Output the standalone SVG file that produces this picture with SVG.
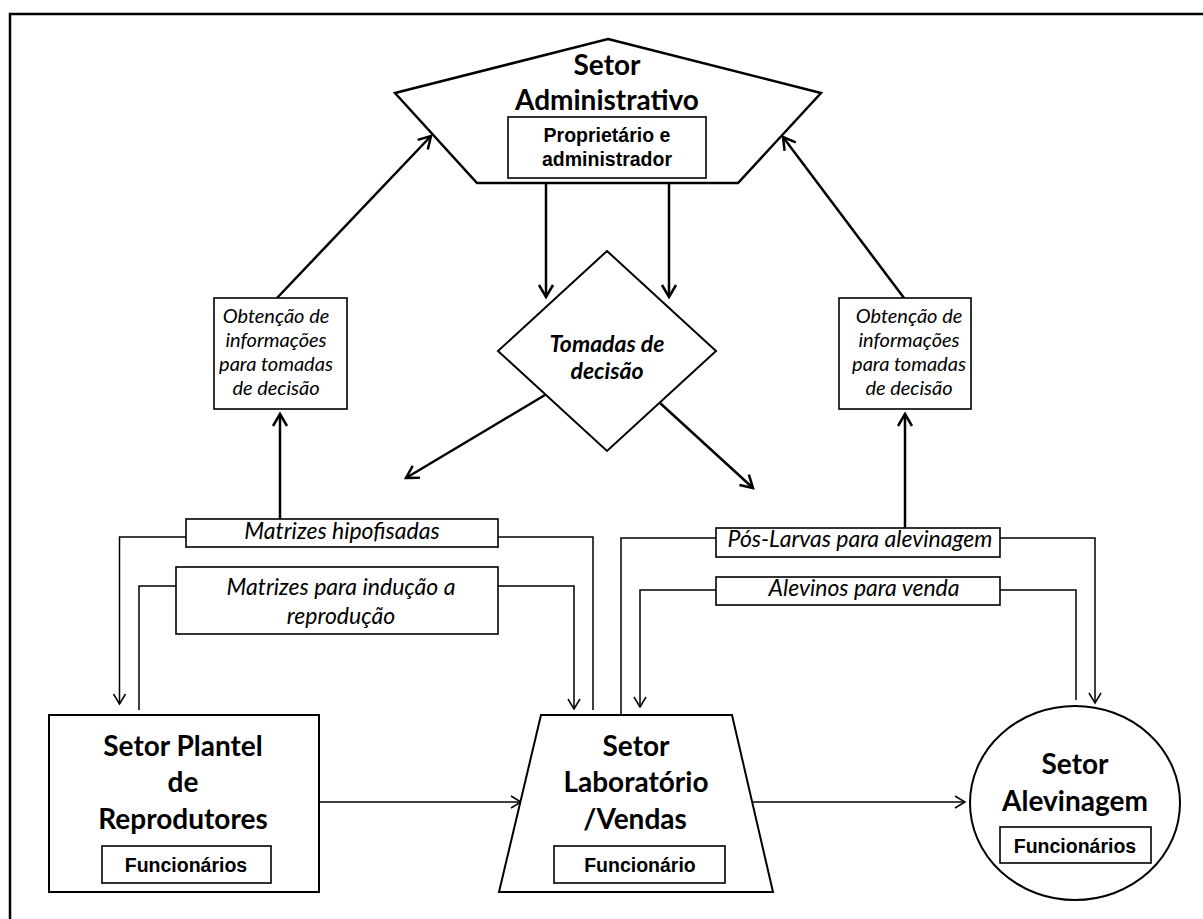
<svg xmlns="http://www.w3.org/2000/svg" width="1203" height="919" viewBox="0 0 1203 919">
<defs>
<style>
.shape{fill:#fff;stroke:#000;stroke-width:2}
.box{fill:#fff;stroke:#000;stroke-width:1.6}
.thick{fill:none;stroke:#000;stroke-width:2.5}
.thin{fill:none;stroke:#000;stroke-width:1.5}
.big{font-family:Lato,"Liberation Sans",sans-serif;font-weight:bold;font-size:28px;text-anchor:middle;fill:#000}
.lbl{font-family:"Liberation Sans",Arial,sans-serif;font-weight:bold;font-size:19.5px;text-anchor:middle;fill:#000}
.it{font-family:Lato,"Liberation Sans",sans-serif;font-style:italic;font-size:20px;text-anchor:middle;fill:#000}
.it2{font-family:Lato,"Liberation Sans",sans-serif;font-style:italic;font-size:23px;text-anchor:middle;fill:#000}
.bi{font-family:Lato,"Liberation Sans",sans-serif;font-style:italic;font-weight:bold;font-size:23px;text-anchor:middle;fill:#000}
</style>
<marker id="ah" viewBox="0 0 12 14" refX="12" refY="7" markerWidth="12" markerHeight="14" markerUnits="userSpaceOnUse" orient="auto" overflow="visible">
<path d="M0,0 L12,7 L0,14" fill="none" stroke="#000" stroke-width="2.5"/>
</marker>
<marker id="as" viewBox="0 0 10 12" refX="10" refY="6" markerWidth="10" markerHeight="12" markerUnits="userSpaceOnUse" orient="auto" overflow="visible">
<path d="M0,0 L10,6 L0,12" fill="none" stroke="#000" stroke-width="1.5"/>
</marker>
</defs>
<rect width="1203" height="919" fill="#fff"/>
<path d="M10,919 L10,14 L1203,14" fill="none" stroke="#000" stroke-width="2.5"/>

<g id="connectors">
<line class="thick" x1="546" y1="183" x2="546" y2="297" marker-end="url(#ah)"/>
<line class="thick" x1="669" y1="183" x2="669" y2="297" marker-end="url(#ah)"/>
<line class="thick" x1="545" y1="395" x2="406" y2="478" marker-end="url(#ah)"/>
<line class="thick" x1="660" y1="403" x2="753" y2="488" marker-end="url(#ah)"/>
<line class="thick" x1="277" y1="298" x2="431" y2="136" marker-end="url(#ah)"/>
<line class="thick" x1="904" y1="298" x2="783" y2="137" marker-end="url(#ah)"/>
<line class="thick" x1="280" y1="519" x2="280" y2="414" marker-end="url(#ah)"/>
<line class="thick" x1="905" y1="528" x2="905" y2="414" marker-end="url(#ah)"/>
<path class="thin" d="M186,537 H119.5 V704" marker-end="url(#as)"/>
<path class="thin" d="M498,537 H593 V710"/>
<path class="thin" d="M176,586 H139 V710"/>
<path class="thin" d="M498,586 H574 V709" marker-end="url(#as)"/>
<path class="thin" d="M716,538 H621 V715"/>
<path class="thin" d="M1000,538 H1095 V703" marker-end="url(#as)"/>
<path class="thin" d="M716,590 H640 V707" marker-end="url(#as)"/>
<path class="thin" d="M1000,590 H1076 V700"/>
<line class="thin" x1="319" y1="802" x2="521" y2="802" marker-end="url(#as)"/>
<line class="thin" x1="745" y1="802" x2="965" y2="802" marker-end="url(#as)"/>
</g>

<g id="admin">
<polygon class="thick" style="fill:#fff" points="608,39 821,93 738,183 477,183 395,93"/>
<text class="big" x="607" y="75">Setor</text>
<text class="big" x="607" y="110">Administrativo</text>
<rect class="box" x="508" y="117" width="198" height="61"/>
<text class="lbl" x="607" y="142">Proprietário e</text>
<text class="lbl" x="607" y="166">administrador</text>
</g>

<g id="decisao">
<polygon class="shape" points="607,251 716,351 607,451 498,351"/>
<text class="bi" x="607" y="352">Tomadas de</text>
<text class="bi" x="607" y="379">decisão</text>
</g>

<g id="info-left">
<rect class="box" x="214" y="298" width="133" height="111"/>
<text class="it" x="276" y="323">Obtenção de</text>
<text class="it" x="276" y="347">informações</text>
<text class="it" x="276" y="371">para tomadas</text>
<text class="it" x="276" y="395">de decisão</text>
</g>

<g id="info-right">
<rect class="box" x="839" y="298" width="132" height="111"/>
<text class="it" x="909" y="323">Obtenção de</text>
<text class="it" x="909" y="347">informações</text>
<text class="it" x="909" y="371">para tomadas</text>
<text class="it" x="909" y="395">de decisão</text>
</g>

<g id="lbl-hipofisadas">
<rect class="box" x="186" y="519" width="312" height="28"/>
<text class="it2" x="342" y="539">Matrizes hipofisadas</text>
</g>

<g id="lbl-inducao">
<rect class="box" x="176" y="567" width="322" height="67"/>
<text class="it2" x="341" y="595">Matrizes para indução a</text>
<text class="it2" x="341" y="624">reprodução</text>
</g>

<g id="lbl-poslarvas">
<rect class="box" x="716" y="528" width="284" height="29"/>
<text class="it2" x="860" y="547">Pós-Larvas para alevinagem</text>
</g>

<g id="lbl-alevinos">
<rect class="box" x="716" y="577" width="284" height="28"/>
<text class="it2" x="864" y="596">Alevinos para venda</text>
</g>

<g id="plantel">
<rect class="shape" x="49" y="715" width="270" height="177"/>
<text class="big" x="183" y="756">Setor Plantel</text>
<text class="big" x="183" y="792">de</text>
<text class="big" x="183" y="829">Reprodutores</text>
<rect class="box" x="102" y="846" width="169" height="37"/>
<text class="lbl" x="186" y="872">Funcionários</text>
</g>

<g id="laboratorio">
<polygon class="shape" points="541,715 732,715 773,892 499,892"/>
<text class="big" x="636" y="756">Setor</text>
<text class="big" x="636" y="792">Laboratório</text>
<text class="big" x="635" y="829">/Vendas</text>
<rect class="box" x="554" y="846" width="171" height="37"/>
<text class="lbl" x="640" y="872">Funcionário</text>
</g>

<g id="alevinagem">
<ellipse class="shape" cx="1075" cy="803" rx="105" ry="97"/>
<text class="big" x="1075" y="774">Setor</text>
<text class="big" x="1075" y="811">Alevinagem</text>
<rect class="box" x="1000" y="827" width="151" height="36"/>
<text class="lbl" x="1075" y="853">Funcionários</text>
</g>
</svg>
